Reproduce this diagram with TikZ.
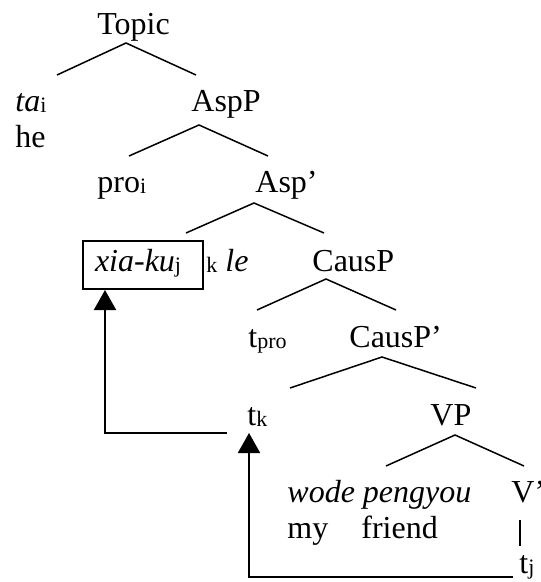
\documentclass[tikz,border=0pt]{standalone}
\usepackage{fontspec}
\setmainfont{Liberation Serif}
\usetikzlibrary{arrows.meta}
\newcommand{\lsub}[1]{\raisebox{-0.5pt}{\fontsize{11}{13}\selectfont #1}}
\tikzset{
  word/.style={anchor=base west,inner sep=0pt,font=\fontsize{16}{19}\selectfont},
  branch/.style={line width=0.75pt},
  move/.style={line width=1pt,-{Triangle[width=11pt,length=10pt]}},
}

\begin{document}
\begin{tikzpicture}[x=0.5pt,y=-0.5pt]
  \useasboundingbox (0,0) rectangle (540,582);

  % labels of the tree
  \node[word] (topic) at (97,35) {Topic};
  \node[word] (ta) at (15,112) {\textit{ta}\lsub{i}};
  \node[word] (he) at (15,148) {he};
  \node[word] (aspp) at (191,112) {AspP};
  \node[word] (pro) at (97,193) {pro\lsub{i}};
  \node[word] (aspbar) at (255,193) {Asp’};
  \node[word,draw,line width=1pt,inner xsep=6pt,text width=48pt,
        text height=15pt,text depth=9pt] (xiaku) at (82,271) {\textit{xia-ku}\lsub{j}};
  \node[word] (kle) at (206,271) {\lsub{k} \textit{le}};
  \node[word] (causp) at (312,271) {CausP};
  \node[word] (tpro) at (248,347) {t\lsub{pro}};
  \node[word] (causbar) at (349,347) {CausP’};
  \node[word] (tk) at (247,425) {t\lsub{k}};
  \node[word] (vp) at (430,425) {VP};
  \node[word] (wode) at (287,502) {\textit{wode pengyou}};
  \node[word] (vbar) at (511,502) {V’};
  \node[word] (my) at (287,538) {my};
  \node[word] (friend) at (361,538) {friend};
  \node[word] (tj) at (519,573) {t\lsub{j}};

  % branches
  \foreach \n/\ax/\ay/\lx/\rx/\by in {topic/126/43/57/196/75, aspp/199/125/129/268/156,
      aspbar/254/203/186/324/233, causp/326/279/257/396/310,
      causbar/382/357/290/476/388, vp/455/435/386/524/466}{
    \coordinate (\n-top) at (\ax,\ay);
    \coordinate (\n-l) at (\lx,\by);
    \coordinate (\n-r) at (\rx,\by);
    \draw[branch] (\n-l) -- (\n-top) -- (\n-r);
  }
  \draw[branch,shorten <=8.5pt,shorten >=4.5pt] ([xshift=0.5pt]vbar.south -| tj.west) -- ([xshift=0.5pt]tj.north west);

  % movement arrows
  \draw[move] ([xshift=-3pt,yshift=-2pt]tj.base west) -| ([xshift=1pt,yshift=-4pt]tk.base west);
  \draw[move] ([xshift=-10pt,yshift=-4pt]tk.base west) -| ([xshift=11.5pt]xiaku.south west);
\end{tikzpicture}
\end{document}
